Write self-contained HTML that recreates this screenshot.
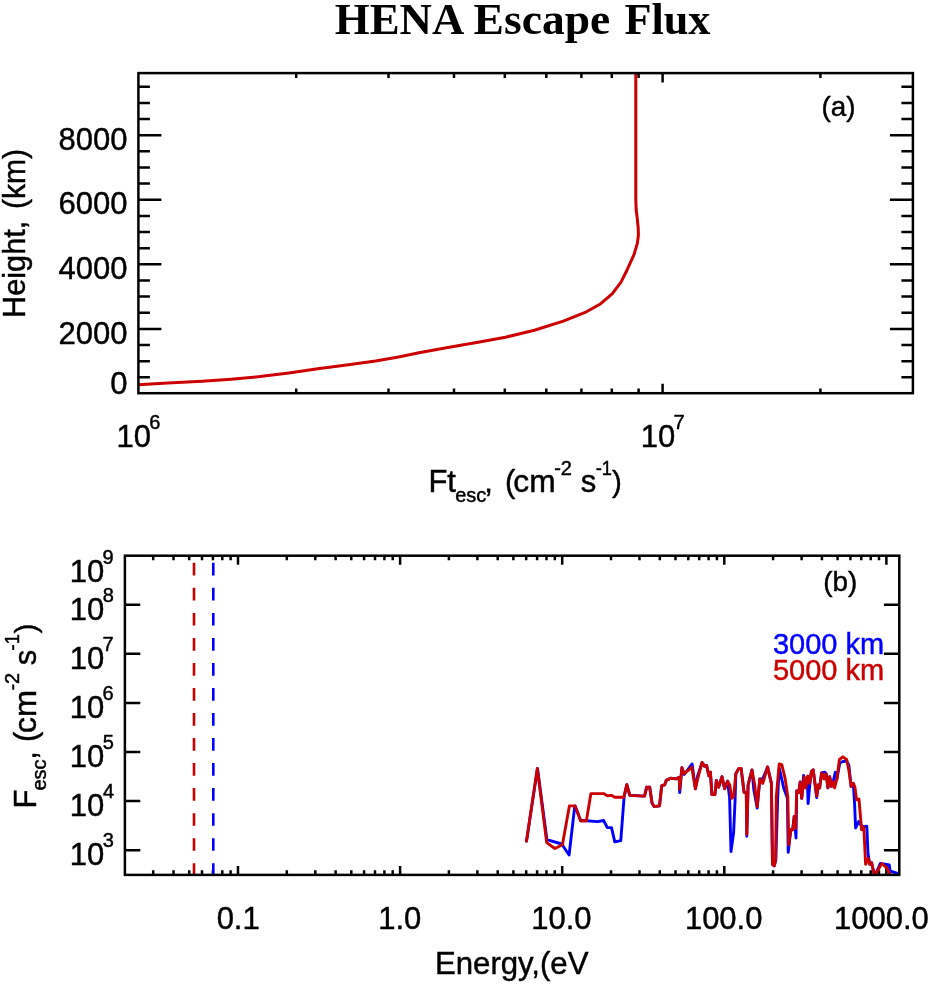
<!DOCTYPE html><html><head><meta charset="utf-8"><title>HENA Escape Flux</title>
<style>html,body{margin:0;padding:0;background:#fff;overflow:hidden}svg{will-change:transform;display:block;position:absolute;left:0;top:0}text{font-family:"Liberation Sans",sans-serif;fill:#000;stroke:#000;stroke-width:0.45px}.t{font-family:"Liberation Serif",serif;font-weight:bold}</style></head><body>
<svg width="935" height="984" viewBox="0 0 935 984">
<rect x="0" y="0" width="935" height="984" fill="#fff"/>
<text class="t" x="334.8" y="33.7" font-size="44.8" textLength="129.6" lengthAdjust="spacingAndGlyphs" style="stroke:none">HENA</text>
<text class="t" x="473.6" y="33.7" font-size="44.8" textLength="136.6" lengthAdjust="spacingAndGlyphs" style="stroke:none">Escape</text>
<text class="t" x="624.4" y="33.7" font-size="44.8" textLength="86.0" lengthAdjust="spacingAndGlyphs" style="stroke:none">Flux</text>
<path d="M296.2 393.2v-4.8M296.2 73.1v4.8M388.5 393.2v-4.8M388.5 73.1v4.8M454.0 393.2v-4.8M454.0 73.1v4.8M504.8 393.2v-4.8M504.8 73.1v4.8M546.3 393.2v-4.8M546.3 73.1v4.8M581.4 393.2v-4.8M581.4 73.1v4.8M611.8 393.2v-4.8M611.8 73.1v4.8M638.6 393.2v-4.8M638.6 73.1v4.8M662.6 393.2v-9.5M662.6 73.1v9.5M820.4 393.2v-4.8M820.4 73.1v4.8M138.4 377.3h11.5M912.9 377.3h-11.5M138.4 361.2h11.5M912.9 361.2h-11.5M138.4 345.0h11.5M912.9 345.0h-11.5M138.4 328.9h23M912.9 328.9h-23M138.4 312.7h11.5M912.9 312.7h-11.5M138.4 296.6h11.5M912.9 296.6h-11.5M138.4 280.5h11.5M912.9 280.5h-11.5M138.4 264.3h23M912.9 264.3h-23M138.4 248.2h11.5M912.9 248.2h-11.5M138.4 232.0h11.5M912.9 232.0h-11.5M138.4 215.9h11.5M912.9 215.9h-11.5M138.4 199.8h23M912.9 199.8h-23M138.4 183.6h11.5M912.9 183.6h-11.5M138.4 167.5h11.5M912.9 167.5h-11.5M138.4 151.3h11.5M912.9 151.3h-11.5M138.4 135.2h23M912.9 135.2h-23M138.4 119.1h11.5M912.9 119.1h-11.5M138.4 102.9h11.5M912.9 102.9h-11.5M138.4 86.8h11.5M912.9 86.8h-11.5" stroke="#000" stroke-width="2.5" fill="none"/>
<path d="M138.7 384.7 L167.5 383 L202.2 381.2 L231 379.2 L260 376.6 L288.8 373.1 L317.7 368.8 L346.6 365 L375.5 361 L398.6 357 L418.9 352.8 L447.8 347.6 L476.6 342.4 L505.5 337.2 L534.4 330.3 L563.3 321.1 L586.4 311.8 L600.8 303.7 L612.4 293.6 L621 282.1 L626.8 270.5 L634 254.7 L637.4 243.1 L638.4 235 L638.2 228 L637.2 218 L636.2 210 L635.8 200 L635.8 74" stroke="#cc0000" stroke-width="3" fill="none" stroke-linejoin="round"/>
<rect x="138.4" y="73.1" width="774.5" height="320.1" fill="none" stroke="#000" stroke-width="2.5"/>
<text x="58.61" y="149.8" font-size="31">8000</text>
<text x="58.61" y="214.4" font-size="31">6000</text>
<text x="58.61" y="279" font-size="31">4000</text>
<text x="58.61" y="343.6" font-size="31">2000</text>
<text x="110.33" y="394.0" font-size="31">0</text>
<text font-size="31" transform="translate(25.3,317.92) rotate(-90)" textLength="97.2" lengthAdjust="spacingAndGlyphs">Height,</text>
<text font-size="31" transform="translate(25.3,209.05) rotate(-90)" textLength="60" lengthAdjust="spacingAndGlyphs">(km)</text>
<text x="116.46" y="446.6" font-size="31">10</text>
<text x="149.26" y="429.0" font-size="20">6</text>
<text x="640.76" y="446.6" font-size="31">10</text>
<text x="673.56" y="429.0" font-size="20">7</text>
<text x="428.38" y="492.2" font-size="31">Ft</text>
<text x="455.18" y="501.5" font-size="20">esc</text>
<text x="484.18" y="492.2" font-size="31">,</text>
<text x="505.05" y="492.2" font-size="31">(</text>
<text x="513.33" y="492.2" font-size="31" textLength="42.3" lengthAdjust="spacingAndGlyphs">cm</text>
<text x="554.17" y="474.59999999999997" font-size="20">-2</text>
<text x="580.82" y="492.2" font-size="31">s</text>
<text x="595.67" y="474.59999999999997" font-size="20" textLength="16.3" lengthAdjust="spacingAndGlyphs">-1</text>
<text x="612.00" y="491.9" font-size="29.5">)</text>
<text x="821.56" y="115.8" font-size="28.5" textLength="34" lengthAdjust="spacingAndGlyphs">(a)</text>
<path d="M153.2 874.9v-4.6M153.2 555.7v4.6M173.5 874.9v-4.6M173.5 555.7v4.6M189.2 874.9v-4.6M189.2 555.7v4.6M202.0 874.9v-4.6M202.0 555.7v4.6M212.9 874.9v-4.6M212.9 555.7v4.6M222.3 874.9v-4.6M222.3 555.7v4.6M230.6 874.9v-4.6M230.6 555.7v4.6M238.0 874.9v-9.0M238.0 555.7v9.0M286.8 874.9v-4.6M286.8 555.7v4.6M315.3 874.9v-4.6M315.3 555.7v4.6M335.6 874.9v-4.6M335.6 555.7v4.6M351.3 874.9v-4.6M351.3 555.7v4.6M364.1 874.9v-4.6M364.1 555.7v4.6M375.0 874.9v-4.6M375.0 555.7v4.6M384.4 874.9v-4.6M384.4 555.7v4.6M392.7 874.9v-4.6M392.7 555.7v4.6M400.1 874.9v-9.0M400.1 555.7v9.0M448.9 874.9v-4.6M448.9 555.7v4.6M477.4 874.9v-4.6M477.4 555.7v4.6M497.7 874.9v-4.6M497.7 555.7v4.6M513.4 874.9v-4.6M513.4 555.7v4.6M526.2 874.9v-4.6M526.2 555.7v4.6M537.1 874.9v-4.6M537.1 555.7v4.6M546.5 874.9v-4.6M546.5 555.7v4.6M554.8 874.9v-4.6M554.8 555.7v4.6M562.2 874.9v-9.0M562.2 555.7v9.0M611.0 874.9v-4.6M611.0 555.7v4.6M639.5 874.9v-4.6M639.5 555.7v4.6M659.8 874.9v-4.6M659.8 555.7v4.6M675.5 874.9v-4.6M675.5 555.7v4.6M688.3 874.9v-4.6M688.3 555.7v4.6M699.2 874.9v-4.6M699.2 555.7v4.6M708.6 874.9v-4.6M708.6 555.7v4.6M716.9 874.9v-4.6M716.9 555.7v4.6M724.3 874.9v-9.0M724.3 555.7v9.0M773.1 874.9v-4.6M773.1 555.7v4.6M801.6 874.9v-4.6M801.6 555.7v4.6M821.9 874.9v-4.6M821.9 555.7v4.6M837.6 874.9v-4.6M837.6 555.7v4.6M850.4 874.9v-4.6M850.4 555.7v4.6M861.3 874.9v-4.6M861.3 555.7v4.6M870.7 874.9v-4.6M870.7 555.7v4.6M879.0 874.9v-4.6M879.0 555.7v4.6M886.4 874.9v-9.0M886.4 555.7v9.0M124.9 850.2h15.4M899.3 850.2h-15.4M124.9 801.1h15.4M899.3 801.1h-15.4M124.9 752.0h15.4M899.3 752.0h-15.4M124.9 702.9h15.4M899.3 702.9h-15.4M124.9 653.8h15.4M899.3 653.8h-15.4M124.9 604.7h15.4M899.3 604.7h-15.4" stroke="#000" stroke-width="2.5" fill="none"/>
<path d="M213.3 874.9V555.7" stroke="#0000ff" stroke-width="2.6" stroke-dasharray="12.7 12.33" stroke-dashoffset="1" fill="none"/>
<path d="M194 874.9V555.7" stroke="#cc0000" stroke-width="2.6" stroke-dasharray="12.7 12.33" stroke-dashoffset="1" fill="none"/>
<clipPath id="cb"><rect x="124.9" y="555.7" width="774.4" height="319.2"/></clipPath><g clip-path="url(#cb)">
<path d="M526.5 841.1 L537.5 768.4 L546.9 839.6 L561.7 844 L569.1 855 L574.7 806.6 L575.1 805.9 L580.7 820.8 L586.4 820.8 L597.6 821.6 L603.6 820.5 L607.3 827.6 L611.5 827.6 L614.8 841.8 L620.8 840.6 L624.1 796.9 L626.8 784.6 L629.8 795.4 L644.5 796.1 L646.7 787.2 L649.7 787.2 L652 802.9 L654.2 806.6 L659.5 805.9 L661.7 785.7 L664.7 784.9 L666.2 780.4 L670.7 778.2 L675.9 778.9 L679.2 777.4 L679.7 792.6 L681.9 767.7 L684.2 774.5 L687.9 769.5 L692.1 764 L695.4 788.7 L697.6 775.9 L702.1 762.5 L704.4 766.2 L706.6 765.5 L708.9 775.9 L710.4 772.2 L711.9 794.6 L714.9 794.6 L716.4 780.4 L718.6 787.2 L722 776.7 L724.6 788.7 L727.6 781.2 L729.6 798 L731 851.5 L733.6 832.8 L735.1 799.9 L735.8 773.7 L738.8 768.4 L741.1 768.4 L744.1 792.4 L746.3 792.4 L746.8 836.3 L748.1 784.9 L752 769.9 L753.8 789.4 L757.2 808 L759.8 778.9 L762.8 778.9 L767.6 767 L771.4 783.4 L772.5 864.3 L774.3 865.8 L775.8 859.8 L777.7 796.9 L779.2 768 L780.4 773 L783.7 787.9 L787.4 798 L788.2 852.3 L790.8 829.8 L792.7 829.8 L794.2 816.4 L796 838 L796.7 790.9 L798.7 792.4 L800.2 781.9 L801.7 798.4 L803.6 775.5 L805.7 787.9 L807.3 778 L808.1 803.6 L809.9 783.4 L811.4 771.4 L813.2 769.9 L816.7 797.5 L818.2 784.9 L819.6 787.9 L821.6 772.9 L824.9 772.2 L826.1 773.7 L827.9 787.9 L829.7 776.7 L831.6 786.4 L833.1 781.9 L835.4 772.2 L836.9 778.9 L839.8 763 L842.9 761.5 L846.6 761 L848.8 765 L851.1 786.4 L853.3 783.4 L854.6 804 L855.6 828 L858.6 821.6 L862.3 826.8 L866.8 826.1 L868 853.8 L869.8 864.3 L871.6 862.8 L874.3 874.7 L877.3 870.3 L880.3 863.5 L889.3 865 L890 871 L896.8 873.2 L899 875.5" stroke="#0000ff" stroke-width="2.9" fill="none" stroke-linejoin="round" stroke-linecap="round"/>
<path d="M526.5 841.1 L537.3 768.4 L546.7 842.6 L554.9 848.5 L562.4 844.8 L569.4 805.9 L575.1 805.9 L580.7 820.8 L586.4 820.8 L590.9 793.6 L603.6 793.6 L607.3 795.7 L611.8 795.4 L614.8 797.3 L623.8 797.3 L626.8 784.6 L629.8 795.4 L644.5 796.1 L646.7 787.2 L649.7 787.2 L652 802.9 L654.2 806.6 L659.5 805.9 L661.7 785.7 L664.7 784.9 L666.2 780.4 L670.7 778.2 L675.9 778.9 L679.2 777.4 L679.7 789.4 L681.9 767.7 L684.2 773.7 L687.9 770.7 L691.7 767 L695.4 788.7 L698.4 775.9 L702.1 762.5 L704.4 766.2 L706.6 765.5 L708.9 775.9 L710.4 772.2 L711.9 794.6 L714.9 794.6 L716.4 780.4 L718.6 787.2 L722 776.7 L724.6 788.7 L727.6 781.2 L729.8 784.9 L731.6 798.4 L733.6 796.9 L735.8 773.7 L738.8 768.4 L741.1 768.4 L744.1 792.4 L746.3 792.4 L746.8 834.3 L748.1 784.9 L752 769.9 L754.5 783.4 L757.2 806.6 L759.8 778.9 L762.8 783.4 L767.6 767 L771.4 783.4 L772.5 864.3 L774.3 865.8 L775.6 859.8 L776.3 796.9 L779.2 764 L781.8 764.7 L785.2 778.9 L787.8 796.9 L788.7 844.8 L790.8 829.8 L792.7 829.8 L794.2 816.4 L795.7 828.3 L796.7 790.9 L798.7 792.4 L800.2 781.9 L801.7 798.4 L804.2 776.7 L805.7 787.9 L807.7 775.9 L809.9 783.4 L811.4 771.4 L813.2 769.9 L816.7 796.1 L818.2 784.9 L819.6 787.9 L821.6 772.9 L824.1 778.9 L826.1 773.7 L827.9 787.9 L829.7 776.7 L831.6 786.4 L833.1 781.9 L834.6 787.9 L836.9 778.9 L839.4 759.5 L842.9 756.8 L846.6 759.5 L848.8 769.9 L851.1 786.4 L853.3 783.4 L854.8 786.4 L856.6 799.9 L859 799.1 L861.6 829.8 L863.8 826.8 L865.6 864.3 L868.3 858.3 L869.8 864.3 L871.6 862.8 L874.3 874.7 L876.5 872.5 L881.8 863.5 L886.3 867.3 L890.8 875.5" stroke="#cc0000" stroke-width="2.9" fill="none" stroke-linejoin="round" stroke-linecap="round"/>
</g>
<rect x="124.9" y="555.7" width="774.4" height="319.2" fill="none" stroke="#000" stroke-width="2.5"/>
<text x="69.66" y="865.0" font-size="31">10</text>
<text x="102.77" y="847.4" font-size="20">3</text>
<text x="69.66" y="815.9" font-size="31">10</text>
<text x="103.09" y="798.3" font-size="20">4</text>
<text x="69.66" y="766.8" font-size="31">10</text>
<text x="102.77" y="749.1999999999999" font-size="20">5</text>
<text x="69.66" y="717.7" font-size="31">10</text>
<text x="102.46" y="700.1" font-size="20">6</text>
<text x="69.66" y="668.6" font-size="31">10</text>
<text x="102.46" y="651.0" font-size="20">7</text>
<text x="69.66" y="619.5" font-size="31">10</text>
<text x="102.77" y="601.9" font-size="20">8</text>
<text x="69.66" y="581.6" font-size="31">10</text>
<text x="102.46" y="564.0" font-size="20">9</text>
<text x="216.63" y="928.9" font-size="31">0.1</text>
<text x="378.18" y="928.9" font-size="31">1.0</text>
<text x="531.24" y="928.9" font-size="31">10.0</text>
<text x="684.90" y="928.9" font-size="31">100.0</text>
<text x="834.06" y="928.9" font-size="31">1000.0</text>
<text x="434.98" y="974" font-size="31" textLength="153.5" lengthAdjust="spacingAndGlyphs">Energy,(eV</text>
<text x="823.16" y="590.8" font-size="28.5" textLength="34" lengthAdjust="spacingAndGlyphs">(b)</text>
<text x="772.99" y="653.6" font-size="29" style="fill:#0000ff;stroke:#0000ff">3000 km</text>
<text x="772.99" y="679.6" font-size="29" style="fill:#cc0000;stroke:#cc0000">5000 km</text>
<text font-size="31" transform="translate(36.0,808.42) rotate(-90)">F</text>
<text font-size="20" transform="translate(46.2,790.62) rotate(-90)">esc</text>
<text font-size="31" transform="translate(36.0,759.82) rotate(-90)">,</text>
<text font-size="31" transform="translate(36.0,742.05) rotate(-90)">(</text>
<text font-size="31" transform="translate(36.0,733.17) rotate(-90)" textLength="43.3" lengthAdjust="spacingAndGlyphs">cm</text>
<text font-size="20" transform="translate(19.1,690.62) rotate(-90)">-2</text>
<text font-size="31" transform="translate(36.0,665.28) rotate(-90)">s</text>
<text font-size="20" transform="translate(19.1,650.42) rotate(-90)" textLength="16.3" lengthAdjust="spacingAndGlyphs">-1</text>
<text font-size="29.5" transform="translate(35.7,633.40) rotate(-90)">)</text>
</svg></body></html>
